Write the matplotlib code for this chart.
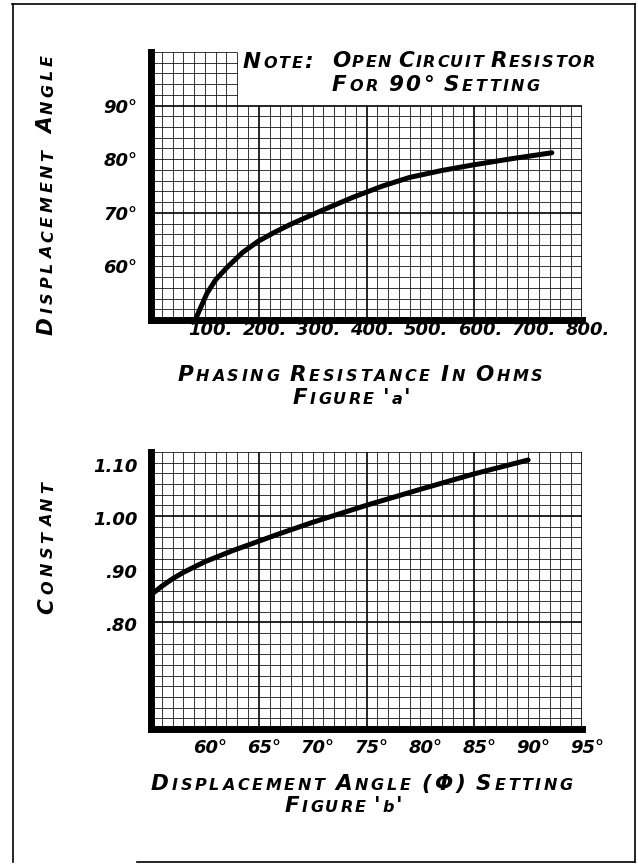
import numpy as np
import matplotlib
matplotlib.use("Agg")
import matplotlib.pyplot as plt
from matplotlib.lines import Line2D
from matplotlib.transforms import ScaledTranslation

W, H = 638, 867

# figure 'a': displacement angle vs phasing resistance
OHMS = [82, 104, 120, 141, 170, 199, 230, 258, 314, 375, 430, 480, 540, 596, 670, 744]
ANGLE_A = [50.0, 55.0, 57.5, 59.8, 62.6, 64.7, 66.4, 67.8, 70.3, 72.9, 75.0, 76.6,
           77.9, 78.9, 80.1, 81.2]
A_XTICKS = [100, 200, 300, 400, 500, 600, 700, 800]
A_XLABELS = ["100.", "200.", "300.", "400.", "500.", "600.", "700.", "800."]
A_YTICKS = [60, 70, 80, 90]
A_YLABELS = ["60°", "70°", "80°", "90°"]

# figure 'b': constant vs displacement angle setting
DEG = [55, 56, 57, 58, 60, 62.6, 66.7, 70, 75, 80, 85, 90]
CONST = [0.852, 0.868, 0.882, 0.894, 0.914, 0.935, 0.965, 0.988, 1.020, 1.050, 1.079, 1.105]
B_XTICKS = [60, 65, 70, 75, 80, 85, 90, 95]
B_XLABELS = ["60°", "65°", "70°", "75°", "80°", "85°", "90°", "95°"]
B_YTICKS = [0.80, 0.90, 1.00, 1.10]
B_YLABELS = [".80", ".90", "1.00", "1.10"]

FONT = dict(family="DejaVu Sans", style="italic", weight="bold")


def letter(fig, x, y, s, width, big=15.5, small=11.5, rotation=0, ha="center"):
    """hand-lettered small caps; x, y in image pixels (y from top, baseline)."""
    r = fig.canvas.get_renderer()
    chars, keep = [], False
    for ch in s:
        if ch == "~":
            keep = True
            continue
        if keep:
            chars.append((ch, small))
            keep = False
        elif ch.islower():
            chars.append((ch.upper(), small))
        else:
            chars.append((ch, big))
    widths = []
    for ch, size in chars:
        if ch == " ":
            widths.append(0.0)
            continue
        t = fig.text(0, 0, ch, fontsize=size, **FONT)
        widths.append(t.get_window_extent(r).width)
        t.remove()
    n_sp = sum(1 for c, _ in chars if c == " ")
    track = (width - sum(widths)) / (len(chars) - 1 + 2 * n_sp)
    cur = -width / 2 if ha == "center" else 0
    for (ch, size), w in zip(chars, widths):
        if ch != " ":
            if rotation == 0:
                fig.text((x + cur) / W, (H - y) / H, ch, fontsize=size,
                         ha="left", va="baseline", **FONT)
            else:
                fig.text(x / W, (H - (y - cur)) / H, ch, fontsize=size, rotation=90,
                         rotation_mode="anchor", ha="left", va="baseline", **FONT)
        cur += w + track + (2 * track if ch == " " else 0)


def paper(ax, xs, ys, xbold, ybold, clip=None):
    # graph paper: thin cells, heavier every tenth line
    x0, x1 = ax.get_xlim()
    y0, y1 = ax.get_ylim()
    for v in xs:
        top = y1 if clip is None or v <= clip[0] else clip[1]
        ax.vlines(v, y0, top, color="black", lw=1.2 if xbold(v) else 0.55, zorder=1)
    for h in ys:
        right = x1 if clip is None or h <= clip[1] else clip[0]
        ax.hlines(h, x0, right, color="black", lw=1.2 if ybold(h) else 0.55, zorder=1)


def style(ax, fig, xdx, ypad, xpad, ydy=0):
    for s in ("top", "right"):
        ax.spines[s].set_visible(False)
    for s in ("left", "bottom"):
        ax.spines[s].set_linewidth(5.0)
        ax.spines[s].set_zorder(3)
    ax.tick_params(length=0, labelsize=13)
    ax.tick_params(axis="y", pad=ypad)
    ax.tick_params(axis="x", pad=xpad)
    for lab in ax.get_xticklabels():
        lab.set(**FONT)
        lab.set_transform(lab.get_transform() + ScaledTranslation(xdx / 100, 0, fig.dpi_scale_trans))
    for lab in ax.get_yticklabels():
        lab.set(**FONT)
        lab.set_transform(lab.get_transform() + ScaledTranslation(0, -ydy / 100, fig.dpi_scale_trans))


fig = plt.figure(figsize=(W / 100, H / 100), dpi=100)

# ---- figure 'a'
ax1 = fig.add_axes([151 / W, 1 - 320 / H, 431 / W, 268 / H])
ax1.set_xlim(0, 800)
ax1.set_ylim(50, 100)
paper(ax1, np.arange(20, 801, 20), np.arange(52, 100.1, 2),
      lambda v: v % 200 == 0, lambda h: (h - 50) % 20 == 0, clip=(160, 90))
ax1.plot(OHMS, ANGLE_A, color="black", lw=3.6, solid_capstyle="round",
         solid_joinstyle="round", zorder=4)
ax1.set_xticks(A_XTICKS, A_XLABELS)
ax1.set_yticks(A_YTICKS, A_YLABELS)
style(ax1, fig, xdx=6, ypad=10, xpad=1.0)

# ---- figure 'b'
ax2 = fig.add_axes([151 / W, 1 - 729 / H, 431 / W, 277 / H])
ax2.set_xlim(55, 95)
ax2.set_ylim(0.60, 1.12)
paper(ax2, np.arange(56, 95.1, 1), np.round(np.arange(0.62, 1.121, 0.02), 2),
      lambda v: (v - 55) % 10 == 0, lambda h: round((h - 0.60) / 0.02) % 10 == 0)
ax2.plot(DEG, CONST, color="black", lw=3.6, solid_capstyle="round",
         solid_joinstyle="round", zorder=4)
ax2.set_xticks(B_XTICKS, B_XLABELS)
ax2.set_yticks(B_YTICKS, B_YLABELS)
style(ax2, fig, xdx=5, ypad=10, xpad=7.0, ydy=2)

# ---- lettering
letter(fig, 243, 68, "Note:", 70, ha="left")
letter(fig, 332, 67, "Open Circuit Resistor", 263, ha="left")
letter(fig, 332, 91, "For 90° Setting", 208, ha="left")
letter(fig, 53, 195, "Displacement Angle", 280, rotation=90)
letter(fig, 360, 381, "Phasing Resistance In Ohms", 365)
letter(fig, 352, 404, "Figure '~a'", 118)
letter(fig, 344, 812, "Figure '~b'", 118)
letter(fig, 53, 548, "Constant", 131, rotation=90)
letter(fig, 362, 790, "Displacement Angle (Φ) Setting", 422)

# page border
for xs, ys in [((12, 635), (4, 4)), ((13, 13), (4, 862)),
               ((635, 635), (4, 862)), ((137, 635), (862, 862))]:
    fig.add_artist(Line2D([x / W for x in xs], [1 - y / H for y in ys],
                          transform=fig.transFigure, color="black", lw=1.2))

fig.savefig("out.png", dpi=100)
